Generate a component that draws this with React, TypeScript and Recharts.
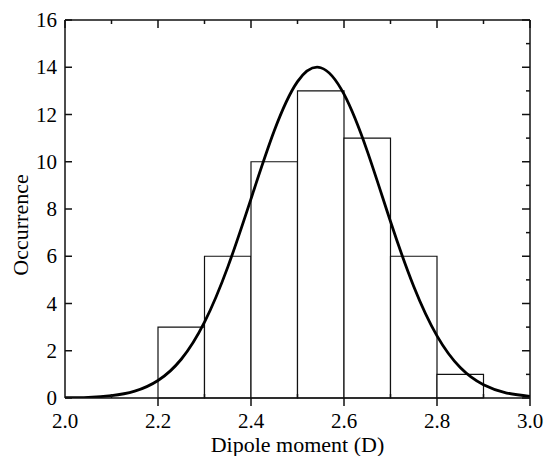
import React from "react";
import {
  ComposedChart,
  Line,
  XAxis,
  YAxis,
  ReferenceArea,
  Label,
} from "recharts";

// Histogram bins (left edge, right edge) and counts
const binStart = [2.2, 2.3, 2.4, 2.5, 2.6, 2.7, 2.8];
const binEnd = [2.3, 2.4, 2.5, 2.6, 2.7, 2.8, 2.9];
const binCounts = [3, 6, 10, 13, 11, 6, 1];

// Fitted curve
const curveX = [
  2.0, 2.05, 2.1, 2.15, 2.2, 2.25, 2.3, 2.35, 2.4, 2.45, 2.5, 2.55, 2.6, 2.65,
  2.7, 2.75, 2.8, 2.85, 2.9, 2.95, 3.0,
];
const curveY = [
  0.01, 0.03, 0.1, 0.29, 0.74, 1.64, 3.21, 5.54, 8.43, 11.31, 13.39, 13.98,
  12.86, 10.45, 7.47, 4.72, 2.63, 1.29, 0.56, 0.21, 0.07,
];

// Axis ticks
const xTicks = [2.0, 2.1, 2.2, 2.3, 2.4, 2.5, 2.6, 2.7, 2.8, 2.9, 3.0];
const yMajorTicks = [0, 2, 4, 6, 8, 10, 12, 14, 16];
const yAllTicks = [0, 1, 2, 3, 4, 5, 6, 7, 8, 9, 10, 11, 12, 13, 14, 15, 16];

const curveData = curveX.map((x, i) => ({ x, y: curveY[i] }));

const FONT = '"Liberation Serif", "Times New Roman", serif';
const INK = "#111";
const textStyle = { fontFamily: FONT, fontSize: 21 };

const isMajorX = (v: number) => Math.round(v * 10) % 2 === 0;

const BottomTick = (props: any) => {
  const { x, y, payload } = props;
  const v = payload.value as number;
  const major = isMajorX(v);
  return (
    <g>
      {major && v > 2.0001 && (
        <line x1={x} x2={x} y1={y} y2={y + 8} stroke={INK} strokeWidth={1.5} />
      )}
      {!major && (
        <line x1={x} x2={x} y1={y} y2={y - 4} stroke={INK} strokeWidth={1.5} />
      )}
      {major && (
        <text x={x} y={y + 30} textAnchor="middle" style={textStyle} fill="#000">
          {v.toFixed(1)}
        </text>
      )}
    </g>
  );
};

const TopTick = (props: any) => {
  const { x, y, payload } = props;
  const v = payload.value as number;
  const len = isMajorX(v) ? 8 : 4;
  return <line x1={x} x2={x} y1={y} y2={y + len} stroke={INK} strokeWidth={1.5} />;
};

const LeftTick = (props: any) => {
  const { x, y, payload } = props;
  const v = payload.value as number;
  return (
    <g>
      <line x1={x} x2={x + 7} y1={y} y2={y} stroke={INK} strokeWidth={1.5} />
      <text x={x - 8} y={y + 7} textAnchor="end" style={textStyle} fill="#000">
        {String(v)}
      </text>
    </g>
  );
};

const RightTick = (props: any) => {
  const { x, y, payload } = props;
  const v = payload.value as number;
  const len = v % 2 === 0 ? 8 : 4;
  return <line x1={x} x2={x - len} y1={y} y2={y} stroke={INK} strokeWidth={1.5} />;
};

export default function App() {
  return (
    <div style={{ position: "absolute", left: 0, top: 0, background: "#fff" }}>
      <ComposedChart
        width={545}
        height={456}
        data={curveData}
        margin={{ top: 0, right: 0, bottom: 0, left: 0 }}
      >
        <XAxis
          xAxisId="x"
          dataKey="x"
          type="number"
          domain={[2, 3]}
          ticks={xTicks}
          interval={0}
          height={58}
          tickSize={0}
          tickMargin={0}
          tickLine={false}
          tick={<BottomTick />}
          axisLine={{ stroke: INK, strokeWidth: 1.5 }}
          allowDataOverflow
        >
          <Label
            content={() => (
              <text
                x={297.5}
                y={452}
                textAnchor="middle"
                style={{ fontFamily: FONT, fontSize: 22 }}
                fill="#000"
              >
                Dipole moment (D)
              </text>
            )}
          />
        </XAxis>
        <XAxis
          xAxisId="top"
          dataKey="x"
          type="number"
          orientation="top"
          domain={[2, 3]}
          ticks={xTicks}
          interval={0}
          height={20}
          tickSize={0}
          tickMargin={0}
          tickLine={false}
          tick={<TopTick />}
          axisLine={{ stroke: INK, strokeWidth: 1.5 }}
          allowDataOverflow
        />
        <YAxis
          yAxisId="y"
          type="number"
          domain={[0, 16]}
          ticks={yMajorTicks}
          interval={0}
          width={65}
          tickSize={0}
          tickMargin={0}
          tickLine={false}
          tick={<LeftTick />}
          axisLine={{ stroke: INK, strokeWidth: 1.5 }}
          allowDataOverflow
        >
          <Label
            content={() => (
              <text
                x={28}
                y={225}
                transform="rotate(-90 28 225)"
                textAnchor="middle"
                style={{ fontFamily: FONT, fontSize: 22 }}
                fill="#000"
              >
                Occurrence
              </text>
            )}
          />
        </YAxis>
        <YAxis
          yAxisId="right"
          type="number"
          orientation="right"
          domain={[0, 16]}
          ticks={yAllTicks}
          interval={0}
          width={15}
          tickSize={0}
          tickMargin={0}
          tickLine={false}
          tick={<RightTick />}
          axisLine={{ stroke: INK, strokeWidth: 1.5 }}
          allowDataOverflow
        />
        {binStart.map((s, i) => (
          <ReferenceArea
            key={i}
            xAxisId="x"
            yAxisId="y"
            x1={s}
            x2={binEnd[i]}
            y1={0}
            y2={binCounts[i]}
            fill="#fff"
            fillOpacity={1}
            stroke={INK}
            strokeWidth={1.2}
            strokeOpacity={1}
            ifOverflow="visible"
          />
        ))}
        <Line
          xAxisId="top"
          yAxisId="right"
          dataKey="y"
          stroke="none"
          dot={false}
          isAnimationActive={false}
        />
        <Line
          xAxisId="x"
          yAxisId="y"
          type="natural"
          dataKey="y"
          stroke="#000"
          strokeWidth={2.8}
          dot={false}
          activeDot={false}
          isAnimationActive={false}
        />
      </ComposedChart>
    </div>
  );
}
